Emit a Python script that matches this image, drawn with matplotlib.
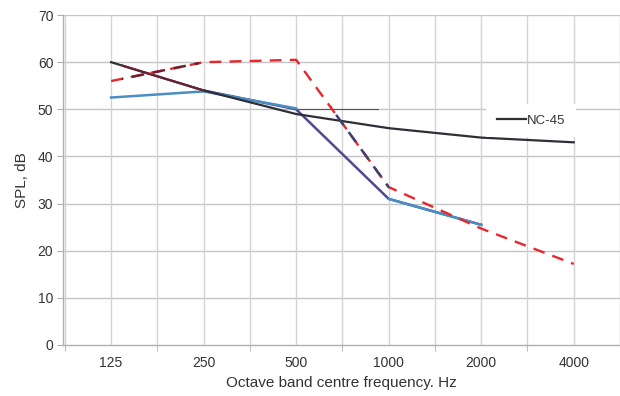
import numpy as np
import matplotlib
matplotlib.use("Agg")
import matplotlib.pyplot as plt
from matplotlib.patches import Rectangle

plt.rcParams['font.family'] = ['Liberation Sans', 'DejaVu Sans']

categories = ['125', '250', '500', '1000', '2000', '4000']
nan = np.nan
nc45 = [60, 54, 49, 46, 44, 43]
maroon_solid = [60, 54, nan, nan, nan, nan]
purple_solid = [nan, 54, 50, 31, 25.5, nan]
blue_a = [52.5, 53.8, 50.2, nan, nan, nan]
blue_b = [nan, nan, nan, 31, 25.5, nan]
red_dashed = [56, 60, 60.5, 33.5, 24.7, 17.2]
ref_line = [nan, nan, 50, 50, nan, nan]
y_ticks = [0, 10, 20, 30, 40, 50, 60, 70]

x = np.arange(len(categories))

fig = plt.figure(figsize=(6.2, 3.96), dpi=100)
ax = fig.add_axes([0.1016, 0.1288, 0.8984, 0.8332])

def clip(line, x0, x1):
    r = Rectangle((x0, -10), x1 - x0, 100, transform=ax.transData)
    line.set_clip_path(r)

# grid
for yv in y_ticks[1:]:
    ax.axhline(yv, color='#c4c4c4', lw=1.0, zorder=0)
for xv in np.arange(-0.5, 5.51, 0.5):
    ax.axvline(xv, color='#d4d4d4', lw=1.0, zorder=0)

l, = ax.plot(x, ref_line, color='#555566', lw=0.8, zorder=1)
clip(l, 1.9, 2.9)

ax.plot(x, purple_solid, color='#4f4a90', lw=1.8, zorder=2)
ax.plot(x, blue_a, color='#4a8fc4', lw=1.8, zorder=3)
ax.plot(x, blue_b, color='#4a8fc4', lw=1.8, zorder=3)
ax.plot(x, nc45, color='#2e2e36', lw=1.6, zorder=4, label='NC-45')
l, = ax.plot(x, maroon_solid, color='#6a2030', lw=1.6, zorder=5)
clip(l, 0.12, 1.1)

dash = (0, (5, 3.5))
ax.plot(x, red_dashed, color='#e8262b', lw=1.7, ls=dash, zorder=6)
l, = ax.plot(x, red_dashed, color='#6a2030', lw=1.8, ls=dash, zorder=7)
clip(l, 0.12, 0.95)
l, = ax.plot(x, red_dashed, color='#3e4170', lw=1.8, ls=dash, zorder=7)
clip(l, 2.38, 3.0)

ax.set_xlim(-0.52, 5.5)
ax.set_ylim(0, 70)
ax.set_yticks(y_ticks)
ax.set_xticks(x)
ax.set_xticklabels(categories)
ax.set_xticks(np.arange(-0.5, 5.51, 1.0), minor=True)

for s in ['top', 'right']:
    ax.spines[s].set_visible(False)
for s in ['left', 'bottom']:
    ax.spines[s].set_color('#b0b0b0')
    ax.spines[s].set_linewidth(1.0)

ax.tick_params(axis='y', length=4, color='#b0b0b0', labelsize=10, labelcolor='#333333', pad=3)
ax.tick_params(axis='x', which='major', length=0, labelsize=10, labelcolor='#333333', pad=8)
ax.tick_params(axis='x', which='minor', length=4, color='#b0b0b0')

ax.set_ylabel('SPL, dB', fontsize=11, color='#333333', labelpad=6)
ax.set_xlabel('Octave band centre frequency. Hz', fontsize=11, color='#333333', labelpad=4)

leg = ax.legend(loc='center', bbox_to_anchor=(0.84, 0.68), frameon=True, fontsize=9.5,
                handlelength=2.2, handletextpad=0.1, borderpad=0.8, fancybox=False)
leg.get_frame().set_edgecolor('none')
leg.get_frame().set_facecolor('white')
leg.get_frame().set_alpha(1.0)
for t in leg.get_texts():
    t.set_color('#333333')

fig.savefig('out.png', dpi=100)
